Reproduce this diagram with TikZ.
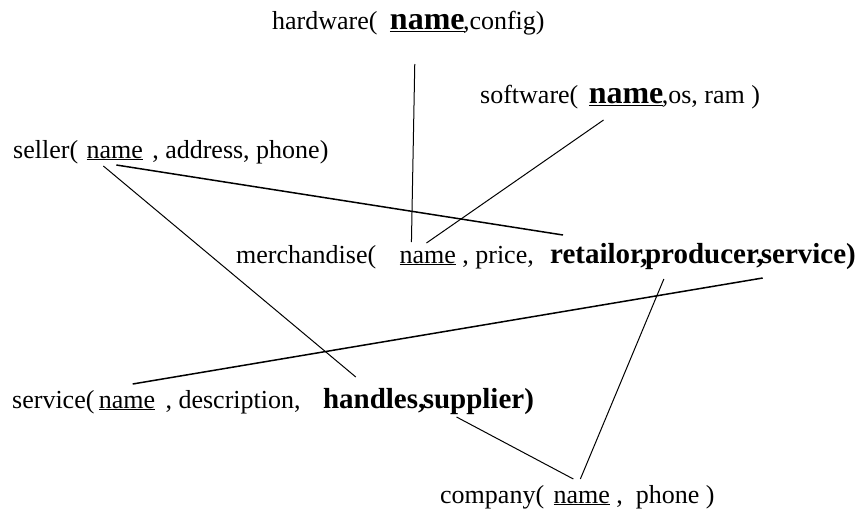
\documentclass[tikz,border=0pt]{standalone}
\usepackage{fontspec}
\setmainfont{Liberation Serif}
\usepackage{tikz}

\begin{document}
\begin{tikzpicture}
  [x=1pt, y=-1pt,
   word/.style={inner sep=0pt, anchor=base west, font=\fontsize{26}{30}\selectfont},
   keyword/.style={word, font=\fontsize{29}{34}\selectfont\bfseries},
   bigname/.style={word, font=\fontsize{32}{38}\selectfont\bfseries},
   link/.style={line width=1pt},
   heavylink/.style={line width=1.5pt}]
  \useasboundingbox (0,0) rectangle (863,512);
  % relations
  \node[word] (hw) at (272,29) {hardware(};
  \node[bigname] (hwname) at ([xshift=12]hw.base east) {\underline{name}};
  \node[word] (hwrest) at ([xshift=-2]hwname.base east) {,config)};
  \node[word] (sw) at (480,103) {software(};
  \node[bigname] (swname) at ([xshift=10]sw.base east) {\underline{name}};
  \node[word] (swrest) at ([xshift=-2]swname.base east) {,os, ram )};
  \node[word] (sl) at (13,158) {seller(};
  \node[word] (slname) at ([xshift=8]sl.base east) {\underline{name}};
  \node[word] (slrest) at ([xshift=9]slname.base east) {, address, phone)};
  \node[word] (m) at (236,263) {merchandise(};
  \node[word] (mname) at ([xshift=23]m.base east) {\underline{name}};
  \node[word] (mrest) at ([xshift=6]mname.base east) {, price,};
  \node[keyword] (rt) at ([xshift=16]mrest.base east) {retailor,};
  \node[keyword] (pr) at ([xshift=-3]rt.base east) {producer,};
  \node[keyword] (sv) at ([xshift=-3]pr.base east) {service)};
  \node[word] (s) at (12,408) {service(};
  \node[word] (sname) at ([xshift=4]s.base east) {\underline{name}};
  \node[word] (srest) at ([xshift=10]sname.base east) {, description,};
  \node[keyword] (hd) at ([xshift=22]srest.base east) {handles,};
  \node[keyword] (sp) at ([xshift=-3]hd.base east) {supplier)};
  \node[word] (c) at (440,503) {company(};
  \node[word] (cname) at ([xshift=9]c.base east) {\underline{name}};
  \node[word] (crest) at ([xshift=6]cname.base east) {,~~phone )};
  % links
  \draw[link] ([shift={(25,35)}]hwname.base west) -- ([shift={(12,-21)}]mname.base west);
  \draw[link] ([shift={(15,17)}]swname.base west) -- ([shift={(27,-20)}]mname.base west);
  \draw[heavylink] ([shift={(30,7)}]slname.base west) -- ([shift={(13,-28)}]rt.base west);
  \draw[link] ([shift={(17,8)}]slname.base west) -- ([shift={(33,-31)}]hd.base west);
  \draw[heavylink] ([shift={(34,-24)}]sname.base west) -- ([shift={(2,15)}]sv.base west);
  \draw[link] ([shift={(19,16)}]pr.base west) -- ([shift={(27,-24)}]cname.base west);
  \draw[link] ([shift={(34,9)}]sp.base west) -- ([shift={(20,-24)}]cname.base west);
\end{tikzpicture}
\end{document}
